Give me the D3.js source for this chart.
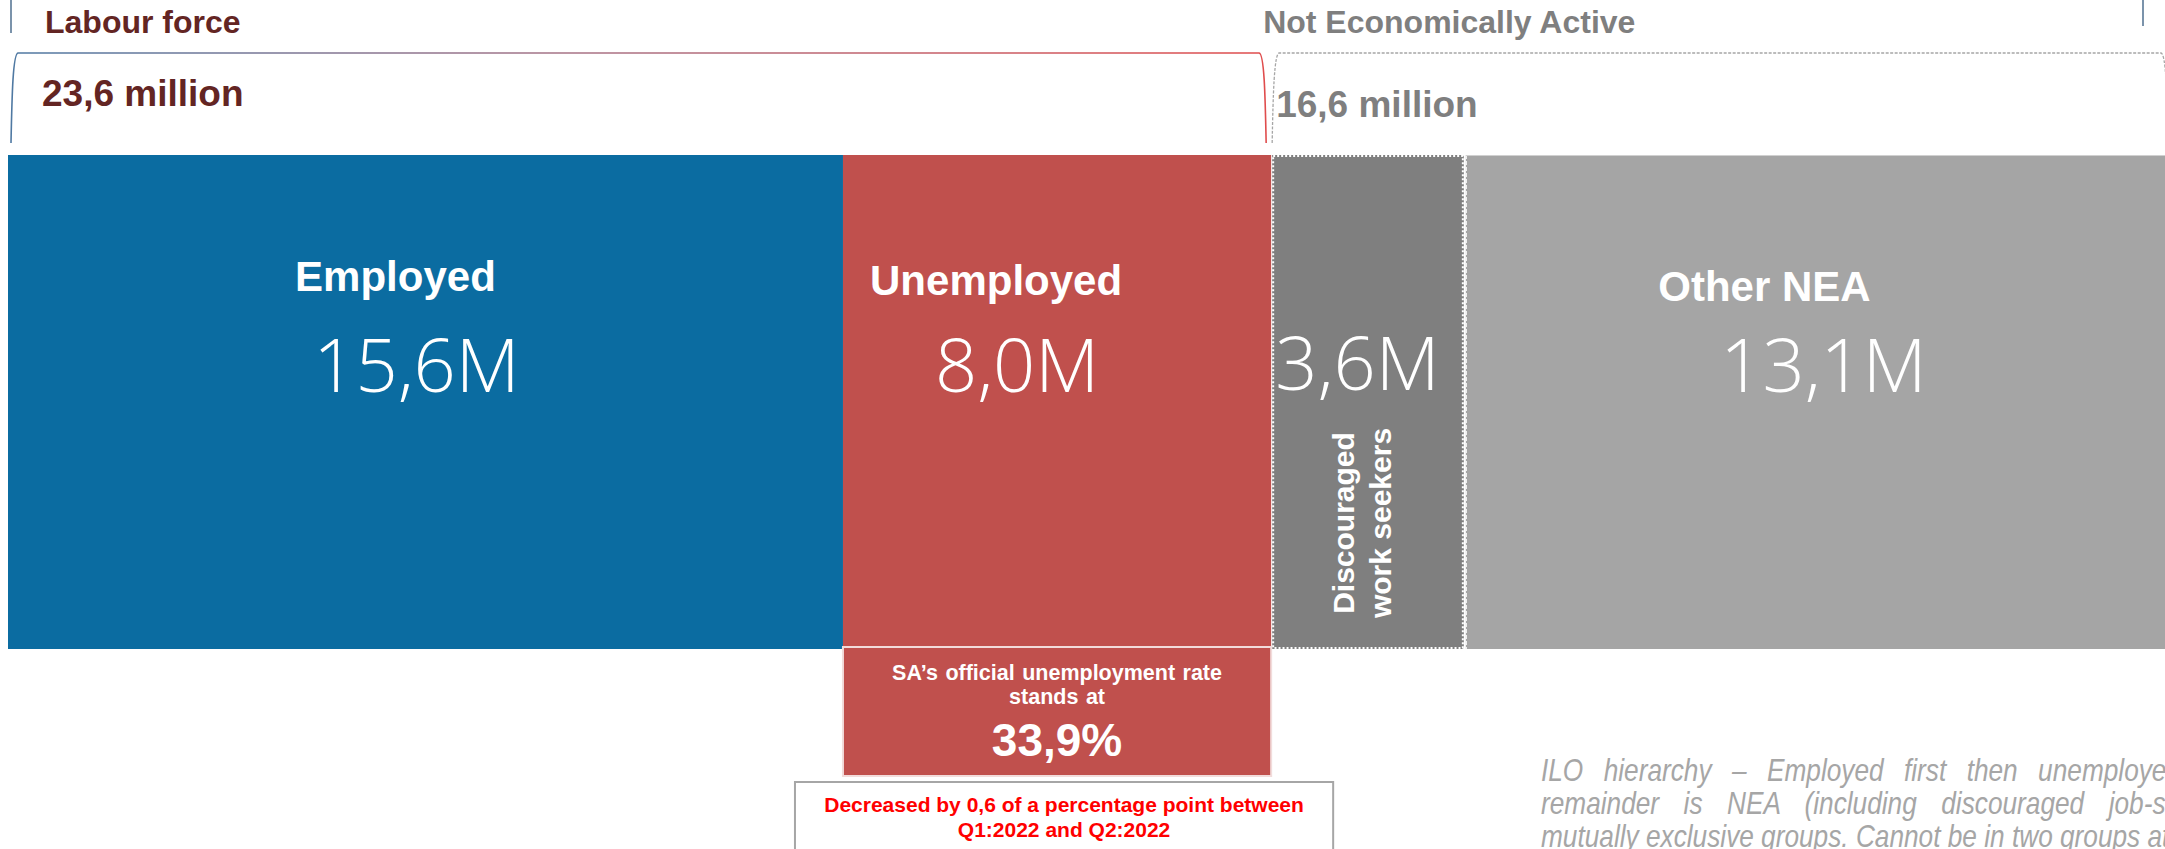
<!DOCTYPE html>
<html>
<head>
<meta charset="utf-8">
<script src="https://cdn.jsdelivr.net/npm/d3@7"></script>
<style>
  html, body { margin: 0; padding: 0; background: #ffffff; overflow: hidden; }
  svg { display: block; }
</style>
</head>
<body>
<div id="chart"></div>
<script>
// ---------------- DATA ----------------
const categories   = ["Employed", "Unemployed", "Discouraged work seekers", "Other NEA"];
const values       = [15.6, 8.0, 3.6, 13.1];          // millions
const valueLabels  = ["15,6M", "8,0M", "3,6M", "13,1M"];
const groupNames   = ["Labour force", "Not Economically Active"];
const groupTotals  = ["23,6 million", "16,6 million"];
const groupMembers = [[0, 1], [2, 3]];                  // category indices per group
const rateLines    = ["SA\u2019s official unemployment rate", "stands at"];
const rateValue    = "33,9%";
const changeLines  = ["Decreased by 0,6 of a percentage point between", "Q1:2022 and Q2:2022"];
const noteLines    = [
  "ILO hierarchy \u2013 Employed first then unemployed and the",
  "remainder is NEA (including discouraged job-seekers). These are",
  "mutually exclusive groups. Cannot be in two groups at the same time."
];

// ---------------- STYLE / LAYOUT ----------------
const W = 2165, H = 849;
const colors = ["#0b6ca1", "#c0504d", "#7f7f7f", "#a5a5a5"];
const groupColors = ["#632523", "#7f7f7f"];
const SANS = "'Liberation Sans', Arial, Helvetica, sans-serif";
const LIGHT = "'Open Sans', 'Noto Sans', sans-serif";
// label nudges relative to band centre (style, not data)
const titleDx = [-30, -61, 0, -50];
const valueDx = [-9, -40, -10, 9];
const titleY  = [291, 295, 0, 301];

const svg = d3.select("#chart").append("svg")
  .attr("width", W).attr("height", H)
  .attr("viewBox", `0 0 ${W} ${H}`);

const total = d3.sum(values);
const x = d3.scaleLinear().domain([0, total]).range([8, W]);
const y = d3.scaleLinear().domain([0, 1]).range([649, 155]);

const cum = values.map((v, i) => d3.sum(values.slice(0, i)));
const bars = categories.map((c, i) => ({
  name: c, value: values[i], label: valueLabels[i], color: colors[i],
  x0: x(cum[i]), x1: x(cum[i] + values[i]), i
}));

// ---------------- BARS ----------------
const g = svg.append("g");
g.selectAll("rect.bar").data(bars).join("rect")
  .attr("class", "bar")
  .attr("x", d => d.i === 3 ? d.x0 + 2 : (d.i === 2 ? d.x0 + 1 : d.x0))
  .attr("y", y(1))
  .attr("width", d => d.i === 3 ? d.x1 - d.x0 - 2 : (d.i === 2 ? d.x1 - d.x0 - 1 : d.x1 - d.x0))
  .attr("height", y(0) - y(1))
  .attr("fill", d => d.color);

// dotted white outline on discouraged
const dws = bars[2];
g.append("rect")
  .attr("x", dws.x0 + 2).attr("y", y(1) + 1)
  .attr("width", dws.x1 - dws.x0 - 3).attr("height", y(0) - y(1) - 2)
  .attr("fill", "none").attr("stroke", "#ffffff").attr("stroke-width", 2)
  .attr("stroke-dasharray", "2,2");
// dashed white left edge on Other NEA
g.append("line")
  .attr("x1", bars[3].x0 + 2.5).attr("x2", bars[3].x0 + 2.5)
  .attr("y1", y(1)).attr("y2", y(0))
  .attr("stroke", "#ffffff").attr("stroke-width", 1).attr("stroke-dasharray", "4,2");
g.append("line")
  .attr("x1", bars[3].x0 + 2).attr("x2", W)
  .attr("y1", y(1) + 0.5).attr("y2", y(1) + 0.5)
  .attr("stroke", "#d0d0d0").attr("stroke-width", 1);

// ---------------- BAR LABELS ----------------
bars.forEach(d => {
  const cx = (d.x0 + d.x1) / 2;
  if (d.i !== 2) {
    g.append("text")
      .attr("x", cx + titleDx[d.i]).attr("y", titleY[d.i])
      .attr("text-anchor", "middle")
      .attr("font-family", SANS).attr("font-weight", "bold")
      .attr("font-size", 42).attr("fill", "#ffffff")
      .text(d.name);
  } else {
    const words = d.name.split(" ");
    const lines = [words[0], words.slice(1).join(" ")];
    const xs = [cx - 13, cx + 24];
    lines.forEach((ln, k) => {
      g.append("text")
        .attr("transform", `translate(${xs[k]},523) rotate(-90)`)
        .attr("text-anchor", "middle")
        .attr("font-family", SANS).attr("font-weight", "bold")
        .attr("font-size", 30).attr("fill", "#ffffff")
        .text(ln);
    });
  }
  g.append("text")
    .attr("x", cx + valueDx[d.i]).attr("y", d.i === 2 ? 390 : 392)
    .attr("text-anchor", "middle")
    .attr("font-family", LIGHT).attr("font-weight", 300)
    .attr("font-size", 74).attr("fill", "#ffffff")
    .text(d.label);
});

// ---------------- GROUP BRACKETS ----------------
const defs = svg.append("defs");
const grad = defs.append("linearGradient").attr("id", "lfGrad")
  .attr("gradientUnits", "userSpaceOnUse")
  .attr("x1", 0).attr("x2", x(values[0] + values[1])).attr("y1", 0).attr("y2", 0);
grad.append("stop").attr("offset", "0%").attr("stop-color", "#4d79a3");
grad.append("stop").attr("offset", "45%").attr("stop-color", "#a87386");
grad.append("stop").attr("offset", "100%").attr("stop-color", "#e04c4c");

function bracketPath(a, b) {
  const top = 53, bot = 143;
  return `M${a},${bot} C${a + 1},${top + 40} ${a + 2},${top + 1} ${a + 7},${top} ` +
         `L${b - 7},${top} C${b - 2},${top + 1} ${b - 1},${top + 40} ${b},${bot}`;
}
groupMembers.forEach((m, gi) => {
  const a = x(cum[m[0]]), b = x(cum[m[m.length - 1]] + values[m[m.length - 1]]);
  const x0 = gi === 0 ? a + 3 : a + 1;
  const x1 = gi === 0 ? b - 5 : b + 3;
  svg.append("path")
    .attr("d", bracketPath(x0, x1))
    .attr("fill", "none")
    .attr("stroke", gi === 0 ? "url(#lfGrad)" : "#a6a6a6")
    .attr("stroke-width", gi === 0 ? 1.6 : 1.3)
    .attr("stroke-dasharray", gi === 0 ? null : "3,1.5");
  svg.append("text")
    .attr("x", gi === 0 ? 45 : a - 8).attr("y", 33)
    .attr("font-family", SANS).attr("font-weight", "bold")
    .attr("font-size", 32).attr("fill", groupColors[gi])
    .text(groupNames[gi]);
  svg.append("text")
    .attr("x", gi === 0 ? 42 : a + 5).attr("y", gi === 0 ? 106 : 117)
    .attr("font-family", SANS).attr("font-weight", "bold")
    .attr("font-size", 37).attr("fill", groupColors[gi])
    .text(groupTotals[gi]);
});

// small decorative edge lines at top
svg.append("line").attr("x1", 11).attr("x2", 11).attr("y1", 0).attr("y2", 33)
  .attr("stroke", "#4f6f8f").attr("stroke-width", 1.5);
svg.append("line").attr("x1", 2143).attr("x2", 2143).attr("y1", 0).attr("y2", 26)
  .attr("stroke", "#4f6f8f").attr("stroke-width", 1.5);

// ---------------- RATE CALLOUT ----------------
const ux0 = bars[1].x0, ux1 = bars[1].x1, ucx = (ux0 + ux1) / 2;
svg.append("rect")
  .attr("x", ux0).attr("y", 647).attr("width", ux1 - ux0).attr("height", 129)
  .attr("fill", "#c0504d").attr("stroke", "#f2dcdb").attr("stroke-width", 2);
rateLines.forEach((t, k) => {
  svg.append("text")
    .attr("x", ucx).attr("y", 680 + k * 24)
    .attr("text-anchor", "middle")
    .attr("font-family", SANS).attr("font-weight", "bold")
    .attr("font-size", 21.5).attr("fill", "#ffffff")
    .attr("word-spacing", 1.5)
    .text(t);
});
svg.append("text")
  .attr("x", ucx).attr("y", 756)
  .attr("text-anchor", "middle")
  .attr("font-family", SANS).attr("font-weight", "bold")
  .attr("font-size", 46).attr("fill", "#ffffff")
  .text(rateValue);

// change box
const bx0 = ux0 - 48, bx1 = ux1 + 62, bcx = (bx0 + bx1) / 2;
svg.append("rect")
  .attr("x", bx0).attr("y", 782).attr("width", bx1 - bx0).attr("height", 90)
  .attr("fill", "#ffffff").attr("stroke", "#a6a6a6").attr("stroke-width", 2);
changeLines.forEach((t, k) => {
  svg.append("text")
    .attr("x", bcx).attr("y", 812 + k * 25)
    .attr("text-anchor", "middle")
    .attr("font-family", SANS).attr("font-weight", "bold")
    .attr("font-size", 21).attr("fill", "#ff0000")
    .text(t);
});

// ---------------- NOTE (narrow italic, justified, clipped at right edge) ----------------
const noteWordSpacing = [16, 21, 0];
noteLines.forEach((t, k) => {
  svg.append("text")
    .attr("transform", `translate(1541,${781 + k * 33}) scale(0.82,1)`)
    .attr("font-family", SANS).attr("font-style", "italic")
    .attr("font-size", 32).attr("fill", "#a6a6a6")
    .attr("word-spacing", noteWordSpacing[k])
    .text(t);
});
</script>
</body>
</html>
